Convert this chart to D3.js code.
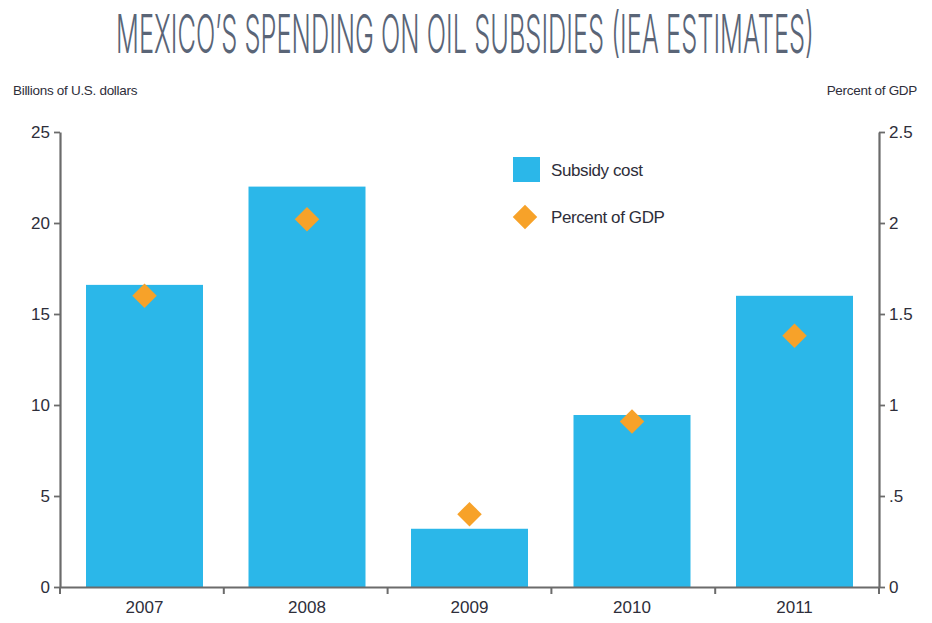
<!DOCTYPE html>
<html>
<head>
<meta charset="utf-8">
<script src="https://cdn.jsdelivr.net/npm/d3@7"></script>
<style>
  body { margin: 0; background: #fff; }
  svg { display: block; }
</style>
</head>
<body>
<div id="chart"></div>
<script>
// data
const years = ["2007", "2008", "2009", "2010", "2011"]
const subsidyCost = [16.6, 22.0, 3.2, 9.45, 16.0]       // billions of U.S. dollars
const percentOfGdp = [1.6, 2.02, 0.4, 0.91, 1.38]       // percent of GDP
const leftTicks = [0, 5, 10, 15, 20, 25]
const rightTicks = [0, 0.5, 1, 1.5, 2, 2.5]
const rightTickLabels = ["0", ".5", "1", "1.5", "2", "2.5"]
const legendLabels = ["Subsidy cost", "Percent of GDP"]

const width = 932
const height = 623
const marginLeft = 60
const marginRight = 53      // right axis sits at width - marginRight
const marginTop = 132
const marginBottom = 36

const barColor = "#2bb7e9"
const dotColor = "#f7a229"
const axisColor = "#6b6b6b"
const textColor = "#2e2e3a"

const svg = d3.select("#chart")
  .append("svg")
  .attr("width", width)
  .attr("height", height)

// title: condensed by squeezing horizontally to the reference width
const titleG = svg.append("g")
const title = titleG.append("text")
  .attr("x", 0)
  .attr("y", 0)
  .attr("text-anchor", "middle")
  .style("font-family", "Inter, 'DejaVu Sans Condensed', sans-serif")
  .style("font-size", "54px")
  .style("font-weight", "300")
  .style("fill", "#5a6577")
  .text("MEXICO’S SPENDING ON OIL SUBSIDIES (IEA ESTIMATES)")
const titleScale = 698 / title.node().getComputedTextLength()
titleG.attr("transform", `translate(465,53) scale(${titleScale},1)`)

const xScale = d3.scaleBand(years, [marginLeft, width - marginRight])
  .paddingInner(0.28)
  .paddingOuter(0.16)
const yLeft = d3.scaleLinear([0, 25], [height - marginBottom, marginTop])
const yRight = d3.scaleLinear([0, 2.5], [height - marginBottom, marginTop])

// bars
svg.append("g")
  .selectAll("rect")
  .data(years)
  .join("rect")
  .attr("x", d => xScale(d))
  .attr("y", (d, i) => yLeft(subsidyCost[i]))
  .attr("width", xScale.bandwidth())
  .attr("height", (d, i) => yLeft(0) - yLeft(subsidyCost[i]))
  .attr("fill", barColor)

// diamonds
const diamond = d3.symbol().type(d3.symbolSquare).size(300)
svg.append("g")
  .selectAll("path")
  .data(years)
  .join("path")
  .attr("d", diamond)
  .attr("transform", (d, i) => `translate(${xScale(d) + xScale.bandwidth() / 2},${yRight(percentOfGdp[i])}) rotate(45)`)
  .attr("fill", dotColor)

const styleAxis = g => {
  g.select(".domain").attr("stroke", axisColor).attr("stroke-width", 2.2)
  g.selectAll(".tick line").attr("stroke", axisColor).attr("stroke-width", 1.8)
  g.selectAll(".tick text")
    .style("font-family", "'Liberation Sans', Arial, sans-serif")
    .style("font-size", "17px")
    .attr("fill", textColor)
}

// left axis
svg.append("g")
  .attr("transform", `translate(${marginLeft},0)`)
  .call(d3.axisLeft(yLeft).tickValues(leftTicks).tickSize(6).tickPadding(4).tickSizeOuter(0))
  .call(styleAxis)

// right axis
svg.append("g")
  .attr("transform", `translate(${width - marginRight},0)`)
  .call(d3.axisRight(yRight).tickValues(rightTicks).tickSize(6).tickPadding(4).tickSizeOuter(0)
    .tickFormat((d, i) => rightTickLabels[i]))
  .call(styleAxis)

// x axis: ticks at category boundaries, labels under bars
const xAxis = svg.append("g")
  .attr("transform", `translate(0,${height - marginBottom})`)
  .call(d3.axisBottom(xScale).tickSize(0).tickPadding(14))
  .call(styleAxis)
const step = (width - marginLeft - marginRight) / years.length
xAxis.selectAll(".boundary")
  .data(d3.range(years.length + 1))
  .join("line")
  .attr("x1", i => marginLeft + i * step)
  .attr("x2", i => marginLeft + i * step)
  .attr("y1", 0)
  .attr("y2", 7)
  .attr("stroke", axisColor)
  .attr("stroke-width", 2)

// axis unit labels
const unitStyle = sel => sel
  .style("font-family", "'Liberation Sans', Arial, sans-serif")
  .style("font-size", "13.5px")
  .style("letter-spacing", "-0.3px")
  .attr("fill", textColor)
svg.append("text").attr("x", 13).attr("y", 95).text("Billions of U.S. dollars").call(unitStyle)
svg.append("text").attr("x", 917).attr("y", 95).attr("text-anchor", "end").text("Percent of GDP").call(unitStyle)

// legend
const legend = svg.append("g")
legend.append("rect")
  .attr("x", 513).attr("y", 157)
  .attr("width", 27).attr("height", 25)
  .attr("fill", barColor)
legend.append("path")
  .attr("d", diamond)
  .attr("transform", "translate(525,217) rotate(45)")
  .attr("fill", dotColor)
legend.selectAll("text")
  .data(legendLabels)
  .join("text")
  .attr("x", 551)
  .attr("y", (d, i) => 170 + i * 47)
  .attr("dy", "0.35em")
  .style("font-family", "'Liberation Sans', Arial, sans-serif")
  .style("font-size", "17px")
  .style("letter-spacing", "-0.4px")
  .attr("fill", textColor)
  .text(d => d)
</script>
</body>
</html>
